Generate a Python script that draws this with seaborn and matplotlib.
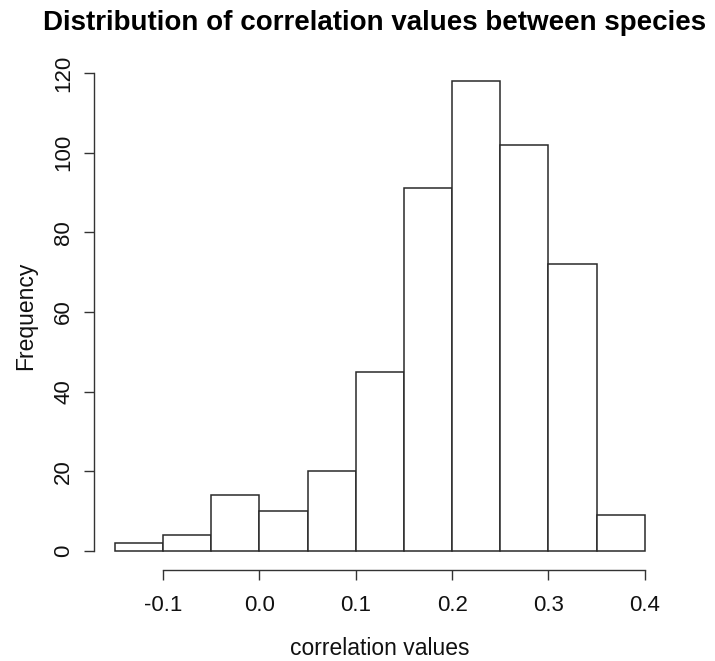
import matplotlib
matplotlib.use("Agg")
import matplotlib.pyplot as plt
import seaborn as sns
import numpy as np

bin_edges = [-0.15, -0.10, -0.05, 0.00, 0.05, 0.10, 0.15, 0.20, 0.25, 0.30, 0.35, 0.40]
counts = [2, 4, 14, 10, 20, 45, 91, 118, 102, 72, 9]
x_ticks = [-0.1, 0.0, 0.1, 0.2, 0.3, 0.4]
x_tick_labels = ["-0.1", "0.0", "0.1", "0.2", "0.3", "0.4"]
y_ticks = [0, 20, 40, 60, 80, 100, 120]

sns.set_style("white", {"text.color": "black", "axes.labelcolor": "black",
                        "xtick.color": "black", "ytick.color": "black"})
plt.rcParams['font.family'] = ['Liberation Sans', 'DejaVu Sans']

fig = plt.figure(figsize=(7.15, 6.61), dpi=100)
ax = fig.add_axes([0.1312, 0.138, 0.8003, 0.768])

centers = [(bin_edges[i] + bin_edges[i + 1]) / 2 for i in range(len(counts))]
sns.histplot(x=centers, weights=counts, bins=bin_edges, ax=ax,
             color="white", edgecolor="#2a2a2a", linewidth=1.1, alpha=1)

span = bin_edges[-1] - bin_edges[0]
ax.set_xlim(bin_edges[0] - 0.04 * span, bin_edges[-1] + 0.04 * span)
ymax = max(counts)
ax.set_ylim(-0.04 * ymax, ymax * 1.04)

for s in ["top", "right"]:
    ax.spines[s].set_visible(False)
ax.spines["left"].set_bounds(0, 120)
ax.spines["bottom"].set_bounds(-0.1, 0.4)
for s in ["left", "bottom"]:
    ax.spines[s].set_color("#333333")
    ax.spines[s].set_linewidth(1.0)

ax.set_xticks(x_ticks)
ax.set_xticklabels(x_tick_labels)
ax.set_yticks(y_ticks)
ax.set_yticklabels([str(v) for v in y_ticks], rotation=90, va="center")
ax.tick_params(axis="both", direction="out", length=7, width=1, color="#333333",
               labelcolor="#111111", labelsize=16, bottom=True, left=True)
ax.tick_params(axis="x", pad=11)
ax.tick_params(axis="y", pad=7)

ax.set_xlabel("correlation values", fontsize=16.5, labelpad=15, color="#111111")
ax.set_ylabel("Frequency", fontsize=16.5, labelpad=12, color="#111111")
fig.text(43 / 715, 1 - 30 / 661, "Distribution of correlation values between species",
         ha="left", va="baseline", fontsize=20, fontweight="bold", color="black")

fig.savefig("out.png", dpi=100, facecolor="white")
